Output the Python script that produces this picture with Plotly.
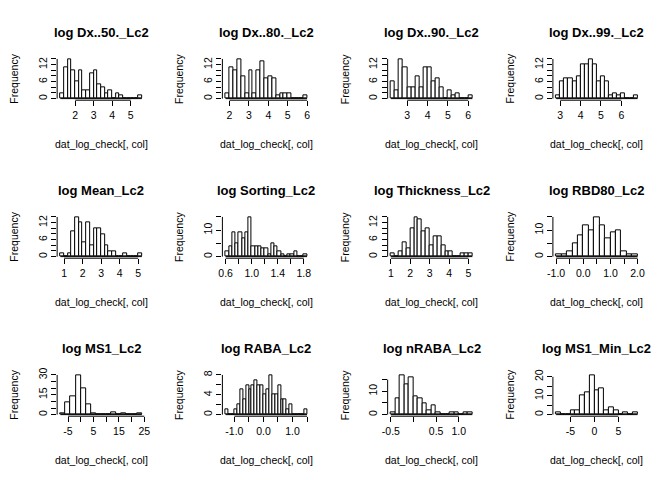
import plotly.graph_objects as go

# ---------------- data ----------------
titles = ["log Dx..50._Lc2", "log Dx..80._Lc2", "log Dx..90._Lc2", "log Dx..99._Lc2",
          "log Mean_Lc2", "log Sorting_Lc2", "log Thickness_Lc2", "log RBD80_Lc2",
          "log MS1_Lc2", "log RABA_Lc2", "log nRABA_Lc2", "log MS1_Min_Lc2"]

break_start = [1.2, 1.8, 2.2, 2.8, 0.8, 0.6, 1.0, -1.0, -8, -1.3, -0.5, -8]
bin_width = [0.2, 0.2, 0.2, 0.2, 0.2, 0.05, 0.2, 0.2, 2, 0.1, 0.1, 1]

counts_dx50 = [2, 11, 14, 10, 6, 10, 3, 3, 9, 10, 5, 4, 2, 3, 0, 2, 1, 0, 0, 0, 0, 1]
counts_dx80 = [2, 11, 10, 14, 8, 2, 10, 2, 10, 13, 7, 8, 7, 1, 2, 2, 2, 0, 0, 0, 1]
counts_dx90 = [6, 3, 14, 11, 4, 4, 8, 4, 11, 11, 6, 7, 4, 0, 3, 1, 2, 0, 0, 1]
counts_dx99 = [1, 6, 7, 7, 6, 8, 12, 12, 14, 12, 6, 8, 6, 1, 2, 1, 2, 0, 0, 1]
counts_mean = [1, 0, 1, 9, 14, 12, 5, 12, 4, 10, 10, 8, 4, 2, 2, 0, 0, 1, 0, 0, 0, 1]
counts_sorting = [2, 4, 9, 5, 9, 7, 9, 15, 4, 4, 4, 3, 3, 1, 5, 4, 2, 1, 0, 1, 1, 2, 0, 0, 1]
counts_thick = [1, 0, 2, 5, 3, 10, 14, 13, 9, 10, 4, 7, 7, 4, 2, 2, 0, 0, 1, 1, 1]
counts_rbd80 = [1, 1, 2, 5, 8, 12, 10, 15, 12, 7, 9, 10, 2, 1, 1]
counts_ms1 = [1, 9, 14, 30, 20, 8, 1, 0, 0, 0, 2, 0, 1, 0, 0, 1]
counts_raba = [1, 0, 0, 1, 2, 5, 3, 6, 5, 6, 7, 6, 6, 4, 5, 8, 4, 4, 6, 3, 3, 1, 2, 0, 0, 0, 0, 1]
counts_nraba = [1, 7, 17, 13, 16, 8, 7, 5, 2, 4, 1, 0, 0, 1, 1, 0, 1, 1]
counts_ms1min = [1, 0, 0, 2, 2, 10, 12, 21, 13, 14, 2, 4, 2, 0, 1, 0, 1]

all_counts = [counts_dx50, counts_dx80, counts_dx90, counts_dx99,
              counts_mean, counts_sorting, counts_thick, counts_rbd80,
              counts_ms1, counts_raba, counts_nraba, counts_ms1min]

x_tickvals = [[2, 3, 4, 5], [2, 3, 4, 5, 6], [3, 4, 5, 6], [3, 4, 5, 6],
              [1, 2, 3, 4, 5], [0.6, 0.8, 1.0, 1.2, 1.4, 1.6, 1.8], [1, 2, 3, 4, 5],
              [-1.0, -0.5, 0.0, 0.5, 1.0, 1.5, 2.0],
              [-5, 0, 5, 10, 15, 20, 25], [-1.0, -0.5, 0.0, 0.5, 1.0, 1.5],
              [-0.5, 0.0, 0.5, 1.0], [-5, 0, 5]]
x_ticktext = [["2", "3", "4", "5"], ["2", "3", "4", "5", "6"], ["3", "4", "5", "6"], ["3", "4", "5", "6"],
              ["1", "2", "3", "4", "5"], ["0.6", "", "1.0", "", "1.4", "", "1.8"], ["1", "2", "3", "4", "5"],
              ["-1.0", "", "0.0", "", "1.0", "", "2.0"],
              ["-5", "", "5", "", "15", "", "25"], ["-1.0", "", "0.0", "", "1.0", ""],
              ["-0.5", "", "0.5", "1.0"], ["-5", "0", "5"]]

y_tickvals = [list(range(0, 15, 2))] * 4 + \
             [list(range(0, 15, 2)), [0, 5, 10, 15], list(range(0, 15, 2)), [0, 5, 10, 15]] + \
             [[0, 5, 10, 15, 20, 25, 30], [0, 2, 4, 6, 8], [0, 5, 10, 15], [0, 5, 10, 15, 20]]
lab_14 = ["0", "", "", "6", "", "", "12", ""]
y_ticktext = [lab_14] * 4 + \
             [lab_14, ["0", "", "10", ""], lab_14, ["0", "", "10", ""]] + \
             [["0", "", "", "15", "", "", "30"], ["0", "", "4", "", "8"], ["0", "", "10", ""], ["0", "", "10", "", "20"]]

x_label = "dat_log_check[, col]"
y_label = "Frequency"

# ---------------- layout geometry (R default margins, mfrow 3x4) ----------------
W, H = 672, 480
PW, PH = 168, 160
ML, MR, MT, MB = 52, 26.6, 52, 64.6
FONT = "Liberation Sans, Arial, sans-serif"

fig = go.Figure()
layout = dict(width=W, height=H, margin=dict(l=0, r=0, t=0, b=0),
              paper_bgcolor="white", plot_bgcolor="white", showlegend=False,
              bargap=0, font=dict(family=FONT, color="black", size=10.5))
shapes = []
annotations = []

for i in range(12):
    row, col = divmod(i, 4)
    n = i + 1
    xa = "x" if n == 1 else f"x{n}"
    ya = "y" if n == 1 else f"y{n}"
    counts = all_counts[i]
    b0, bw = break_start[i], bin_width[i]
    nb = len(counts)
    b_end = b0 + bw * nb
    centers = [b0 + bw * (k + 0.5) for k in range(nb)]
    rng = b_end - b0
    xr = [b0 - 0.04 * rng, b_end + 0.04 * rng]
    ymax = max(counts)
    yr = [-0.04 * ymax, 1.04 * ymax]

    fig.add_trace(go.Bar(x=centers, y=counts, width=bw, xaxis=xa, yaxis=ya,
                         marker=dict(color="white", line=dict(color="black", width=1)),
                         hoverinfo="skip"))

    left = col * PW + ML
    right = col * PW + PW - MR
    top = row * PH + MT
    bottom = row * PH + PH - MB

    axis_common = dict(showgrid=False, zeroline=False, showline=False, ticks="outside",
                       ticklen=5, tickwidth=1, tickcolor="black",
                       tickfont=dict(family=FONT, size=10.5, color="black"), fixedrange=True)
    layout["xaxis" + ("" if n == 1 else str(n))] = dict(
        domain=[left / W, right / W], anchor=ya, range=xr,
        tickmode="array", tickvals=x_tickvals[i], ticktext=x_ticktext[i], **axis_common)
    layout["yaxis" + ("" if n == 1 else str(n))] = dict(
        domain=[1 - bottom / H, 1 - top / H], anchor=xa, range=yr,
        tickmode="array", tickvals=y_tickvals[i], ticktext=y_ticktext[i], tickangle=-90,
        **axis_common)

    # axis lines spanning first..last tick (R style)
    shapes.append(dict(type="line", xref=xa, yref=f"{ya} domain",
                       x0=x_tickvals[i][0], x1=x_tickvals[i][-1], y0=0, y1=0,
                       line=dict(color="black", width=1)))
    shapes.append(dict(type="line", xref=f"{xa} domain", yref=ya,
                       x0=0, x1=0, y0=y_tickvals[i][0], y1=y_tickvals[i][-1],
                       line=dict(color="black", width=1)))
    # baseline of histogram (covers empty bins)
    shapes.append(dict(type="line", xref=xa, yref=ya, x0=b0, x1=b_end, y0=0, y1=0,
                       line=dict(color="black", width=1)))

    cx = (left + right) / 2 / W
    annotations.append(dict(text=f"<b>{titles[i]}</b>", xref="paper", yref="paper",
                            x=cx, y=1 - (row * PH + 27) / H, showarrow=False,
                            xanchor="center", yanchor="middle",
                            font=dict(family=FONT, size=13, color="black")))
    annotations.append(dict(text=x_label, xref="paper", yref="paper",
                            x=cx, y=1 - (row * PH + 140) / H, showarrow=False,
                            xanchor="center", yanchor="middle",
                            font=dict(family=FONT, size=10.5, color="black")))
    annotations.append(dict(text=y_label, xref="paper", yref="paper",
                            x=(col * PW + 8) / W, y=1 - ((top + bottom) / 2) / H,
                            showarrow=False, textangle=-90,
                            xanchor="center", yanchor="middle",
                            font=dict(family=FONT, size=10.5, color="black")))

layout["shapes"] = shapes
layout["annotations"] = annotations
fig.update_layout(**layout)
fig.write_html("out.html", config={"displayModeBar": False},
               post_script="document.body.style.margin='0px';document.body.style.overflow='hidden';")
